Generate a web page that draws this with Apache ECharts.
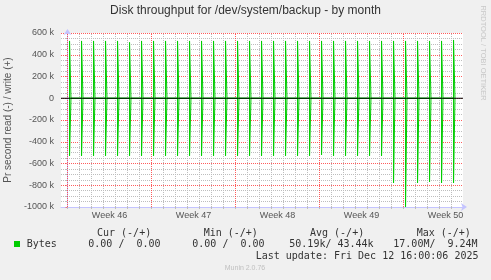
<!DOCTYPE html>
<html>
<head>
<meta charset="utf-8">
<script src="https://cdn.jsdelivr.net/npm/echarts@6/dist/echarts.min.js"></script>
<style>html,body{margin:0;padding:0;background:#f0f0f0}#c{width:491px;height:280px}</style>
</head>
<body>
<div id="c"></div>
<script>
// Days counted from Monday 10 Nov 2025 00:00
const xStart = -6.5 / 12, xEnd = -6.5 / 12 + 402 / 12;
const weekStarts = [0, 7, 14, 21, 28];
const weekMids = [3.5, 10.5, 17.5, 24.5, 31.5];
const weekLabels = ['Week 46', 'Week 47', 'Week 48', 'Week 49', 'Week 50'];
const otherDays = [1,2,3,4,5,6,8,9,10,11,12,13,15,16,17,18,19,20,22,23,24,25,26,27,29,30,31,32];
const allDays = [0,1,2,3,4,5,6,7,8,9,10,11,12,13,14,15,16,17,18,19,20,21,22,23,24,25,26,27,28,29,30,31,32];
// daily backup spike times (days) and peak rates in k bytes/s
const spikeTimes = [0.17,1.17,2.17,3.17,4.17,5.17,6.17,7.17,8.17,9.17,10.17,11.17,12.17,13.17,14.17,15.17,16.17,17.17,18.17,19.17,20.17,21.17,22.17,23.17,24.17,25.17,26.17,27.17,28.17,29.17,30.17,31.17,32.17];
const writeK = [527,527,527,527,527,514,527,527,527,527,527,527,527,527,527,527,527,527,527,527,527,527,527,527,527,527,527,527,527,527,527,527,536];
const readK  = [530,530,530,530,530,530,530,530,530,530,530,530,530,530,530,530,530,530,530,530,530,521,530,530,530,530,530,779,1000,779,770,779,779];

const decay = 0.12;
function spikeData(vals, sign) {
  const out = [];
  spikeTimes.forEach((t, i) => {
    out.push([t, 0], [t, sign * vals[i]], [t + decay, 0]);
  });
  return out;
}

const GREEN = '#00cc00';
const AXIS = '#c4c4ff';
const MGRID = '#ff4040';
const GRID = '#bdbdbd';

const chart = echarts.init(document.getElementById('c'), null, {renderer: 'canvas'});
const mono = '"DejaVu Sans Mono", monospace';
const sans = '"Liberation Sans", Arial, sans-serif';
const legendColor = '#333';

function txt(x, y, s) {
  return {
    type: 'text', x: x, y: y, silent: true,
    style: {text: s, font: '10px ' + mono, fill: legendColor, verticalAlign: 'middle', align: 'left'}
  };
}

function vline(d, color, z, op) {
  return {
    type: 'line', silent: true, data: [[d, -1000], [d, 600]], showSymbol: false, z: z,
    lineStyle: {color: color, width: 1, type: [1, 1], opacity: op}, clip: false
  };
}

chart.setOption({
  backgroundColor: '#f0f0f0',
  animation: false,
  title: {
    text: 'Disk throughput for /dev/system/backup - by month',
    left: 'center', top: 5, padding: 0,
    textStyle: {fontSize: 12, fontWeight: 'normal', color: '#333', fontFamily: sans}
  },
  grid: {left: 61, width: 402, top: 33, height: 174, show: true, backgroundColor: '#ffffff', borderWidth: 0,
         containLabel: false, outerBoundsMode: 'none'},
  xAxis: {
    type: 'value', min: xStart, max: xEnd,
    axisLine: {onZero: false, lineStyle: {color: AXIS, width: 1}, symbol: ['none', 'arrow'], symbolSize: [6, 6], symbolOffset: [0, 4]},
    axisTick: {show: true, customValues: allDays, length: 2, lineStyle: {color: GRID}},
    axisLabel: {
      customValues: weekMids, fontSize: 9, color: '#555', fontFamily: sans, margin: 4,
      formatter: v => weekLabels[weekMids.indexOf(v)] || ''
    },
    splitLine: {show: false}
  },
  yAxis: {
    type: 'value', min: -1000, max: 600, interval: 200,
    name: 'Pr second read (-) / write (+)', nameLocation: 'middle', nameGap: 46, nameRotate: 90,
    nameTextStyle: {fontSize: 10, color: '#555', fontFamily: sans},
    axisLine: {show: true, lineStyle: {color: AXIS, width: 1}, symbol: ['none', 'arrow'], symbolSize: [6, 6], symbolOffset: [0, 4]},
    axisTick: {show: true, length: 2, lineStyle: {color: MGRID, opacity: 0.6}},
    minorTick: {show: true, splitNumber: 4, length: 2, lineStyle: {color: GRID}},
    axisLabel: {fontSize: 9, color: '#555', fontFamily: sans, margin: 7, formatter: v => v === 0 ? '0' : v + ' k'},
    splitLine: {show: true, lineStyle: {color: MGRID, type: [1, 1], width: 1, opacity: 0.85}},
    minorSplitLine: {show: true, lineStyle: {color: GRID, type: [1, 1], width: 1}}
  },
  series: otherDays.map(d => vline(d, GRID, 1, 1))
    .concat(weekStarts.map(d => vline(d, MGRID, 2, 0.85)))
    .concat([
    {
      name: 'write', type: 'line', data: spikeData(writeK, 1), showSymbol: false, z: 3,
      lineStyle: {color: GREEN, width: 1}, itemStyle: {color: GREEN}
    },
    {
      name: 'read', type: 'line', data: spikeData(readK, -1), showSymbol: false, z: 3,
      lineStyle: {color: GREEN, width: 1}, itemStyle: {color: GREEN}
    },
    {
      name: 'zero', type: 'line', silent: true, data: [[xStart, 0], [xEnd, 0]], showSymbol: false, z: 5,
      lineStyle: {color: '#000', width: 1}
    }
  ]),
  graphic: [
    {type: 'text', x: 483, y: 53, rotation: -Math.PI / 2, silent: true,
     style: {text: 'RRDTOOL / TOBI OETIKER', font: '7.5px ' + sans, fill: '#c8c8c8', align: 'center', verticalAlign: 'middle'}},
    txt(97, 233, 'Cur (-/+)'),
    txt(203.7, 233, 'Min (-/+)'),
    txt(310, 233, 'Avg (-/+)'),
    txt(416.7, 233, 'Max (-/+)'),
    {type: 'rect', shape: {x: 14, y: 241, width: 6, height: 6}, style: {fill: GREEN}, silent: true},
    txt(26.7, 244.3, 'Bytes'),
    txt(88.3, 244.3, '0.00 /  0.00'),
    txt(192.3, 244.3, '0.00 /  0.00'),
    txt(289.3, 244.3, '50.19k/ 43.44k'),
    txt(393.3, 244.3, '17.00M/  9.24M'),
    txt(255.7, 256.7, 'Last update: Fri Dec 12 16:00:06 2025'),
    {type: 'text', x: 245, y: 268.3, silent: true,
     style: {text: 'Munin 2.0.76', font: '7px ' + sans, fill: '#c0c0c0', align: 'center', verticalAlign: 'middle'}}
  ]
});
</script>
</body>
</html>
